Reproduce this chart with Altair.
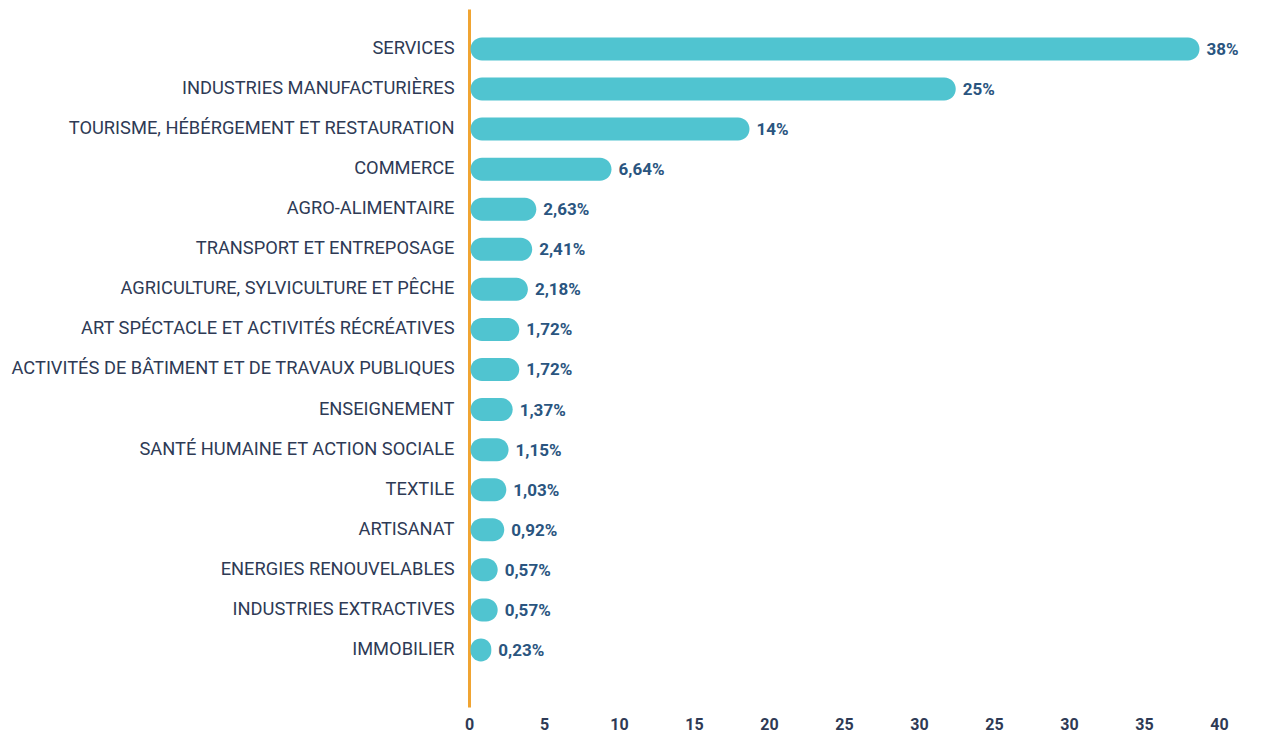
import altair as alt
import pandas as pd

categories = [
    "SERVICES",
    "INDUSTRIES MANUFACTURIÈRES",
    "TOURISME, HÉBÉRGEMENT ET RESTAURATION",
    "COMMERCE",
    "AGRO-ALIMENTAIRE",
    "TRANSPORT ET ENTREPOSAGE",
    "AGRICULTURE, SYLVICULTURE ET PÊCHE",
    "ART SPÉCTACLE ET ACTIVITÉS RÉCRÉATIVES",
    "ACTIVITÉS DE BÂTIMENT ET DE TRAVAUX PUBLIQUES",
    "ENSEIGNEMENT",
    "SANTÉ HUMAINE ET ACTION SOCIALE",
    "TEXTILE",
    "ARTISANAT",
    "ENERGIES RENOUVELABLES",
    "INDUSTRIES EXTRACTIVES",
    "IMMOBILIER",
]
values = [38, 25, 14, 6.64, 2.63, 2.41, 2.18, 1.72, 1.72, 1.37, 1.15, 1.03, 0.92, 0.57, 0.57, 0.23]
value_labels = ["38%", "25%", "14%", "6,64%", "2,63%", "2,41%", "2,18%", "1,72%", "1,72%",
                "1,37%", "1,15%", "1,03%", "0,92%", "0,57%", "0,57%", "0,23%"]
tick_values = [0, 4, 8, 12, 16, 20, 24, 28, 32, 36, 40]
tick_labels = ["0", "5", "10", "15", "20", "25", "30", "25", "30", "35", "40"]

df = pd.DataFrame({"cat": categories, "val": values, "lab": value_labels})

label_expr = "[" + ",".join("'%s'" % t for t in tick_labels) + "][round(datum.value / 4)]"

FONT = "Roboto"
y_enc = alt.Y(
    "cat:N",
    sort=categories,
    title=None,
    scale=alt.Scale(paddingInner=0, paddingOuter=0.71, align=0.35),
    axis=alt.Axis(
        domainColor="#F0A432",
        domainWidth=3,
        ticks=False,
        labelPadding=15,
        labelFont=FONT,
        labelFontSize=18.3,
        labelColor="#2E3A55",
        labelLimit=600,
        minExtent=461,
        maxExtent=461,
    ),
)
x_scale = alt.Scale(domain=[0, 40], nice=False)
x_axis = alt.Axis(
    values=tick_values,
    labelExpr=label_expr,
    domain=False,
    ticks=False,
    grid=False,
    labelFlush=False,
    labelPadding=9,
    labelFont=FONT,
    labelFontSize=16,
    labelFontWeight="bold",
    labelColor="#2E3A55",
)

bars = alt.Chart(df).transform_calculate(zero="0").mark_bar(
    size=23, cornerRadius=11.5, color="#50C4D0", xOffset=1.5, x2Offset=18
).encode(
    y=y_enc,
    x=alt.X("zero:Q", title=None, scale=x_scale, axis=x_axis),
    x2=alt.X2("val:Q"),
)

text = alt.Chart(df).mark_text(
    align="left", baseline="middle", dx=25, dy=1, font=FONT, fontSize=17,
    fontWeight="bold", color="#2A5580"
).encode(y=alt.Y("cat:N", sort=categories), x=alt.X("val:Q"), text="lab:N")

chart = (
    alt.layer(bars, text)
    .properties(width=750, height=698, padding={"left": 0, "top": 1, "right": 5, "bottom": 5})
    .configure_view(stroke=None)
    .configure_axis(grid=False)
)

chart.save("out.html", embed_options={"renderer": "svg", "actions": False})
